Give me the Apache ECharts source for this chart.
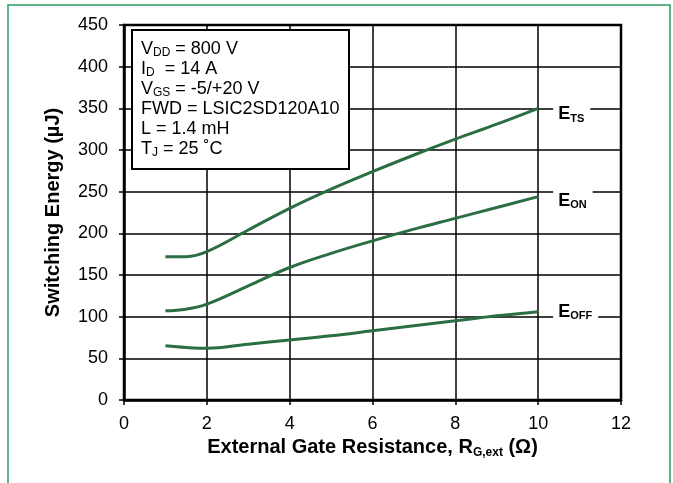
<!DOCTYPE html>
<html>
<head>
<meta charset="utf-8">
<script src="https://cdn.jsdelivr.net/npm/echarts@6/dist/echarts.min.js"></script>
<style>
html,body{margin:0;padding:0;background:#fff;}
#c{width:673px;height:483px;}
</style>
</head>
<body>
<div id="c"></div>
<script>
var xTicks = [0, 2, 4, 6, 8, 10, 12];
var yTicks = [0, 50, 100, 150, 200, 250, 300, 350, 400, 450];
var rg = [1, 1.5, 2, 3, 4, 5, 6, 7, 8, 9, 10];
var eTS  = [172, 172, 178, 204, 230, 253, 274, 294, 313, 331, 350];
var eON  = [107, 109, 115, 137, 159, 176, 191, 205, 218, 231, 244];
var eOFF = [65, 63, 62, 67, 72, 77, 83, 89, 95, 101, 106];
var seriesNames = ['TS', 'ON', 'OFF'];
var conditions = [
  ['V', 'DD', ' = 800 V'],
  ['I', 'D', '  = 14 A'],
  ['V', 'GS', ' = -5/+20 V'],
  ['FWD = LSIC2SD120A10', '', ''],
  ['L = 1.4 mH', '', ''],
  ['T', 'J', ' = 25 \u02DAC']
];

function pairs(ys){ return rg.map(function(x,i){ return [x, ys[i]]; }); }

var font = '"Liberation Sans", Arial, sans-serif';
var green = '#2c6e44';

var condText = conditions.map(function(r){
  var s = '{n|' + r[0] + '}';
  if (r[1]) s += '{s|' + r[1] + '}';
  if (r[2]) s += '{n|' + r[2] + '}';
  return s;
}).join('\n');

function mkSeries(name, ys, dy){
  return {
    type: 'line',
    name: name,
    data: pairs(ys),
    smooth: 0.4,
    symbol: 'none',
    lineStyle: {color: green, width: 3},
    endLabel: {
      show: true,
      distance: 15,
      offset: [0, dy],
      formatter: '{e|E}{s|' + name + '}',
      backgroundColor: '#fff',
      padding: [0, 6, 0, 5],
      rich: {
        e: {fontFamily: font, fontSize: 18, fontWeight: 'bold', color: '#000', lineHeight: 20, verticalAlign: 'middle'},
        s: {fontFamily: font, fontSize: 11, fontWeight: 'bold', color: '#000', lineHeight: 8, verticalAlign: 'bottom'}
      }
    }
  };
}

var chart = echarts.init(document.getElementById('c'), null, {renderer: 'canvas'});
chart.setOption({
  animation: false,
  backgroundColor: '#fff',
  grid: {left: 124, right: 52, top: 25, bottom: 83, show: true, borderColor: '#000', borderWidth: 2.5, backgroundColor: 'transparent'},
  xAxis: {
    type: 'value', min: xTicks[0], max: xTicks[xTicks.length-1], interval: 2,
    name: '{n|External Gate Resistance, R}{s|G,ext}{n| (\u03A9)}',
    nameLocation: 'middle', nameGap: 34,
    nameTextStyle: {fontFamily: font, fontSize: 20, fontWeight: 'bold', color: '#000',
      rich: {
        n: {fontFamily: font, fontSize: 20, fontWeight: 'bold', color: '#000', lineHeight: 22, verticalAlign: 'middle'},
        s: {fontFamily: font, fontSize: 12, fontWeight: 'bold', color: '#000', lineHeight: 9, verticalAlign: 'bottom'}
      }},
    axisLine: {show: true, lineStyle: {color: '#000', width: 2.5}},
    axisTick: {show: true, length: 5, lineStyle: {color: '#000', width: 1.5}},
    axisLabel: {fontFamily: font, fontSize: 18, color: '#000', margin: 15},
    splitLine: {show: true, lineStyle: {color: '#000', width: 1.5}}
  },
  yAxis: {
    type: 'value', min: yTicks[0], max: yTicks[yTicks.length-1], interval: 50,
    name: 'Switching Energy (\u00B5J)',
    nameLocation: 'middle', nameGap: 61,
    nameTextStyle: {fontFamily: font, fontSize: 20, fontWeight: 'bold', color: '#000'},
    axisLine: {show: true, lineStyle: {color: '#000', width: 2.5}},
    axisTick: {show: true, length: 5, lineStyle: {color: '#000', width: 1.5}},
    axisLabel: {fontFamily: font, fontSize: 18, color: '#000', margin: 16},
    splitLine: {show: true, lineStyle: {color: '#000', width: 1.5}}
  },
  graphic: [
    {type: 'rect', shape: {x: 8, y: 5, width: 662, height: 490}, style: {fill: 'none', stroke: '#2e9a60', lineWidth: 1.5}, silent: true},
    {type: 'rect', z: 100, shape: {x: 132, y: 30, width: 217, height: 139}, style: {fill: '#fff', stroke: '#000', lineWidth: 2}},
    {type: 'text', left: 141, top: 40, z: 101, style: {text: condText, rich: {
      n: {fontFamily: font, fontSize: 18, color: '#000', lineHeight: 20, verticalAlign: 'middle'},
      s: {fontFamily: font, fontSize: 12, color: '#000', lineHeight: 8, verticalAlign: 'bottom'}
    }}}
  ],
  series: [mkSeries(seriesNames[0], eTS, 6), mkSeries(seriesNames[1], eON, 4), mkSeries(seriesNames[2], eOFF, 0)]
});
</script>
</body>
</html>
